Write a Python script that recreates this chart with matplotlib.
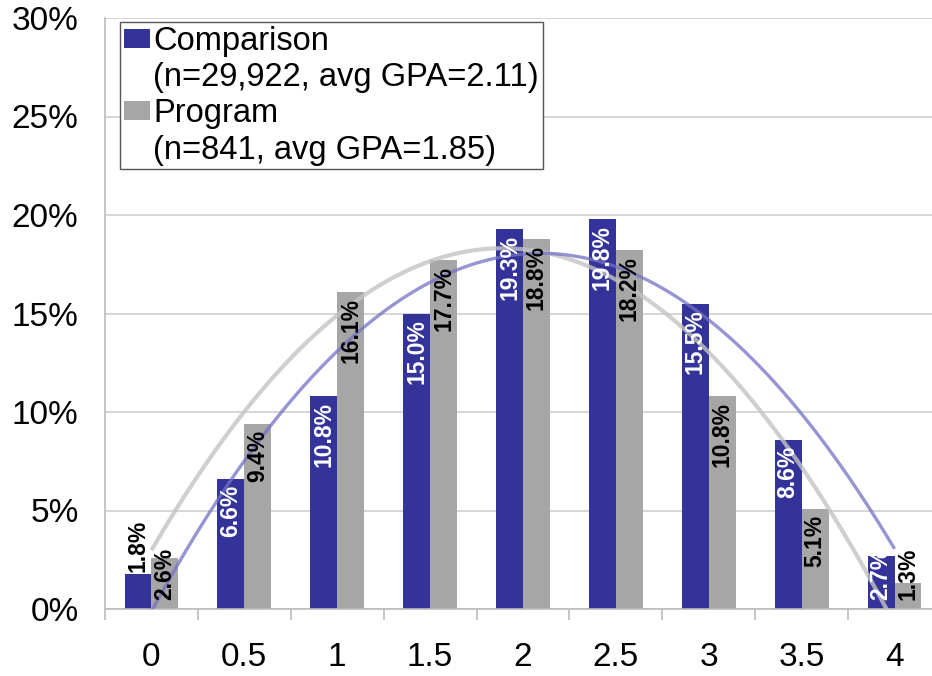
import matplotlib
matplotlib.use("Agg")
import matplotlib.pyplot as plt
import numpy as np
from matplotlib.patches import Patch
from matplotlib.ticker import FuncFormatter, FixedLocator

plt.rcParams['font.family'] = ['Liberation Sans', 'DejaVu Sans']

categories = ["0", "0.5", "1", "1.5", "2", "2.5", "3", "3.5", "4"]
comparison = [1.8, 6.6, 10.8, 15.0, 19.3, 19.8, 15.5, 8.6, 2.7]
program = [2.6, 9.4, 16.1, 17.7, 18.8, 18.2, 10.8, 5.1, 1.3]
comp_label = "Comparison"
comp_note = "(n=29,922, avg GPA=2.11)"
prog_label = "Program"
prog_note = "(n=841, avg GPA=1.85)"

BLUE = "#333399"
GRAY = "#A6A6A6"

W, H = 932, 676
fig = plt.figure(figsize=(W / 100, H / 100), dpi=100)
ax = fig.add_axes([105 / W, (H - 609) / H, 836 / W, 591 / H])

x = np.arange(len(categories))
bw = 0.29
ax.bar(x - bw / 2, comparison, width=bw, color=BLUE, zorder=2)
ax.bar(x + bw / 2, program, width=bw, color=GRAY, zorder=2)

# quadratic trendlines
xs = np.linspace(0, len(categories) - 1, 200)
pc = np.polyfit(x, comparison, 2)
pp = np.polyfit(x, program, 2)
ax.plot(xs, np.polyval(pp, xs), color="#c4c4c4", lw=3.0, alpha=0.8, zorder=3,
        solid_capstyle='butt')
ax.plot(xs, np.polyval(pc, xs), color="#7272c4", lw=2.4, alpha=0.75, zorder=3,
        solid_capstyle='butt')

# data labels
fs = 16.5
for i, v in enumerate(comparison):
    xi = x[i] - bw / 2
    if i == 0:
        ax.text(xi, v + 0.1, f"{v:.1f}%", rotation=90, ha='center', va='bottom',
                color='black', fontsize=fs, fontweight='bold', zorder=4)
    elif v < 4:
        ax.text(xi, 0.45, f"{v:.1f}%", rotation=90, ha='center', va='bottom',
                color='white', fontsize=fs, fontweight='bold', zorder=4)
    else:
        ax.text(xi, v - 0.3, f"{v:.1f}%", rotation=90, ha='center', va='top',
                color='white', fontsize=fs, fontweight='bold', zorder=4)
for i, v in enumerate(program):
    xi = x[i] + bw / 2
    if v < 4:
        ax.text(xi, 0.45, f"{v:.1f}%", rotation=90, ha='center', va='bottom',
                color='black', fontsize=fs, fontweight='bold', zorder=4)
    else:
        ax.text(xi, v - 0.3, f"{v:.1f}%", rotation=90, ha='center', va='top',
                color='black', fontsize=fs, fontweight='bold', zorder=4)

ax.set_xlim(-0.5, len(categories) - 0.5)
ax.set_ylim(0, 30)
ax.set_yticks(np.arange(0, 31, 5))
ax.yaxis.set_major_formatter(FuncFormatter(lambda v, p: f"{int(v)}%"))
ax.grid(axis='y', color='#cfcfcf', lw=1.2, zorder=0)
ax.set_axisbelow(True)
ax.set_xticks(x)
ax.set_xticklabels(categories)
ax.xaxis.set_minor_locator(FixedLocator(np.arange(-0.5, len(categories), 1)))
ax.tick_params(axis='x', which='major', length=0, pad=24, labelsize=24)
ax.tick_params(axis='x', which='minor', length=8, color='#bbbbbb', width=1.2)
ax.tick_params(axis='y', length=0, pad=19, labelsize=24)
for s in ['top', 'right']:
    ax.spines[s].set_visible(False)
ax.spines['left'].set_color('#bbbbbb')
ax.spines['left'].set_linewidth(1.2)
ax.spines['bottom'].set_color('#bbbbbb')
ax.spines['bottom'].set_linewidth(1.2)

blank = Patch(facecolor='none', edgecolor='none')
handles = [Patch(facecolor=BLUE), blank, Patch(facecolor=GRAY), blank]
labels = [comp_label, comp_note, prog_label, prog_note]
leg = ax.legend(handles, labels, loc='upper left', bbox_to_anchor=(15 / 836, 1 - 4 / 591),
                fontsize=23.5, frameon=True, fancybox=False, edgecolor='#555555',
                framealpha=1, handlelength=0.8, handleheight=0.5, handletextpad=0.1,
                labelspacing=0.16, borderpad=0.12, borderaxespad=0)
leg.get_frame().set_linewidth(1.0)
leg.set_zorder(5)

fig.savefig("out.png", dpi=100)
